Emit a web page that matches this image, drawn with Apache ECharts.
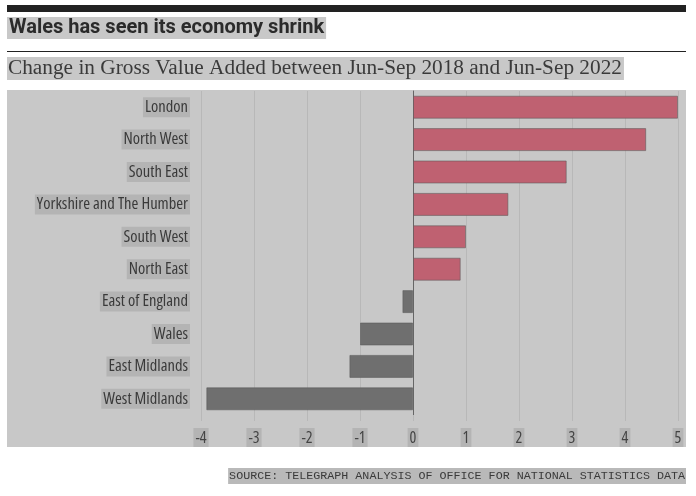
<!DOCTYPE html>
<html>
<head>
<meta charset="utf-8">
<script src="https://cdn.jsdelivr.net/npm/echarts@6/dist/echarts.min.js"></script>
<style>html,body{margin:0;padding:0;background:#fff}#main{width:696px;height:496px}</style>
</head>
<body>
<div id="main"></div>
<script>
const regions = ["London","North West","South East","Yorkshire and The Humber","South West","North East","East of England","Wales","East Midlands","West Midlands"];
const gvaChange = [5.0, 4.4, 2.9, 1.8, 1.0, 0.9, -0.2, -1.0, -1.2, -3.9];
const titleText = "Wales has seen its economy shrink";
const subtitleText = "Change in Gross Value Added between Jun-Sep 2018 and Jun-Sep 2022";
const sourceText = "SOURCE: TELEGRAPH ANALYSIS OF OFFICE FOR NATIONAL STATISTICS DATA";

const POS = '#bf6171', NEG = '#6f6f6f';
const labelFamily = '"Open Sans", sans-serif';

const chart = echarts.init(document.getElementById('main'), null, {renderer:'canvas'});
chart.setOption({
  animation: false,
  backgroundColor: '#fff',
  graphic: [
    {type:'rect', z:-10, shape:{x:7,y:5,width:679,height:7}, style:{fill:'#222'}},
    {type:'text', x:7, y:17, style:{text:titleText, font:'bold 20px Roboto, "Liberation Sans", sans-serif', fill:'#2b2b2b', backgroundColor:'#c8c8c8', padding:[1,2,1,2]}},
    {type:'rect', shape:{x:7,y:51,width:679,height:1}, style:{fill:'#222'}},
    {type:'text', x:7, y:57, style:{text:subtitleText, font:'21.3px "Liberation Serif", "DejaVu Serif", serif', fill:'#3a3a3a', backgroundColor:'#c8c8c8', padding:[1,2,1,1]}},
    {type:'rect', z:-10, shape:{x:7,y:90,width:679,height:357}, style:{fill:'#c8c8c8'}},
    {type:'text', right:10, y:468, style:{text:sourceText, font:'11.7px "Liberation Mono", "DejaVu Sans Mono", monospace', fill:'#3a3a3a', backgroundColor:'#b9b9b9', padding:[2,1,2,1]}}
  ],
  grid: {left:201, right:18, top:91, bottom:81, outerBoundsMode:'none', containLabel:false},
  xAxis: {
    type:'value', min:-4, max:5, interval:1,
    axisLine:{show:false},
    axisTick:{show:true, length:6, lineStyle:{color:'#b8b8b8'}},
    splitLine:{show:true, lineStyle:{color:'#b8b8b8', width:1}},
    axisLabel:{
      margin:13, fontFamily:labelFamily, fontStyle:'condensed', fontSize:16, color:'#444',
      backgroundColor:'#b4b4b4', padding:[2,2,1,2],
      formatter: v => String(v)
    }
  },
  yAxis: {
    type:'category', data:regions, inverse:true,
    axisLine:{show:true, onZero:true, lineStyle:{color:'#666', width:1}},
    axisTick:{show:false},
    splitLine:{show:false},
    axisLabel:{
      margin:11, fontFamily:labelFamily, fontStyle:'condensed', fontSize:16.5, color:'#3a3a3a',
      backgroundColor:'#b4b4b4', padding:[2,2,1,2]
    }
  },
  series: [{
    type:'bar',
    data: gvaChange.map(v => ({value:v, itemStyle:{color: v>=0?POS:NEG}})),
    barCategoryGap:'29%',
    itemStyle:{borderColor:'rgba(90,90,90,0.55)', borderWidth:1}
  }]
});
</script>
</body>
</html>
